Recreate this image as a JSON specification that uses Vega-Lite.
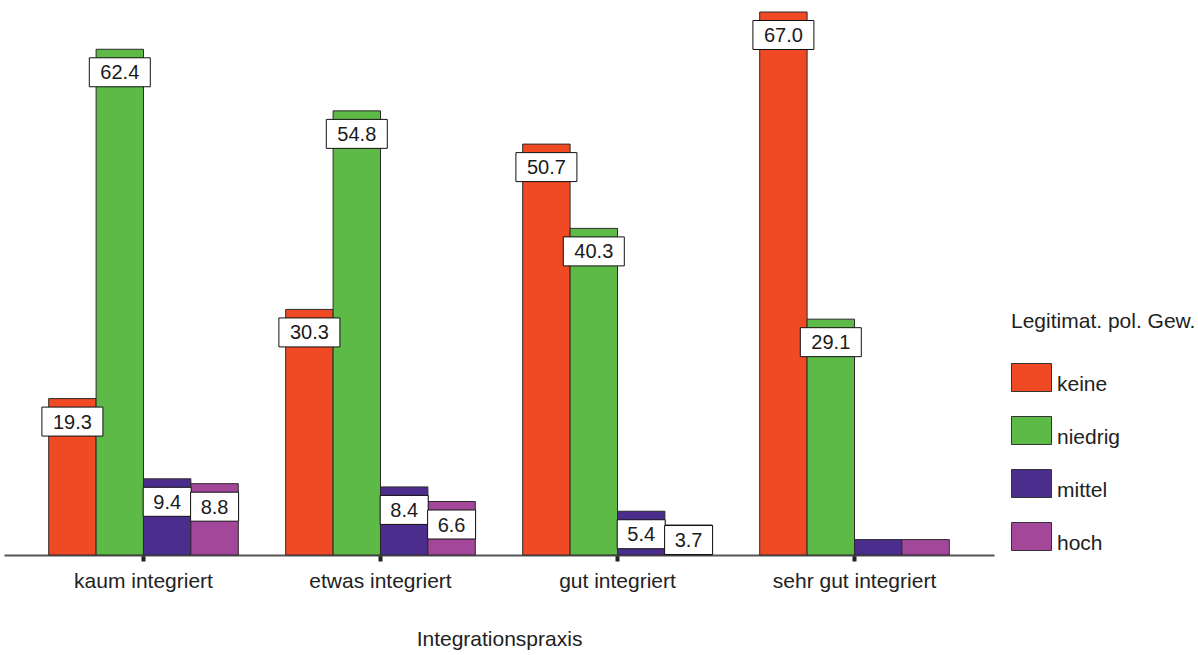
{
  "$schema": "https://vega.github.io/schema/vega-lite/v6.json",
  "width": 990,
  "height": 543,
  "autosize": "none",
  "padding": {"left": 4, "top": 12, "right": 204, "bottom": 100},
  "background": "white",
  "config": {"view": {"stroke": null}, "font": "Liberation Sans"},
  "data": {
    "values": [
      {"praxis": "kaum integriert", "gew": "keine", "value": 19.3},
      {"praxis": "kaum integriert", "gew": "niedrig", "value": 62.4},
      {"praxis": "kaum integriert", "gew": "mittel", "value": 9.4},
      {"praxis": "kaum integriert", "gew": "hoch", "value": 8.8},
      {"praxis": "etwas integriert", "gew": "keine", "value": 30.3},
      {"praxis": "etwas integriert", "gew": "niedrig", "value": 54.8},
      {"praxis": "etwas integriert", "gew": "mittel", "value": 8.4},
      {"praxis": "etwas integriert", "gew": "hoch", "value": 6.6},
      {"praxis": "gut integriert", "gew": "keine", "value": 50.7},
      {"praxis": "gut integriert", "gew": "niedrig", "value": 40.3},
      {"praxis": "gut integriert", "gew": "mittel", "value": 5.4},
      {"praxis": "gut integriert", "gew": "hoch", "value": 3.7},
      {"praxis": "sehr gut integriert", "gew": "keine", "value": 67.0},
      {"praxis": "sehr gut integriert", "gew": "niedrig", "value": 29.1},
      {"praxis": "sehr gut integriert", "gew": "mittel", "value": 1.9},
      {"praxis": "sehr gut integriert", "gew": "hoch", "value": 1.9}
    ]
  },
  "encoding": {
    "x": {
      "field": "praxis",
      "type": "nominal",
      "sort": ["kaum integriert", "etwas integriert", "gut integriert", "sehr gut integriert"],
      "scale": {"paddingInner": 0.2, "paddingOuter": 0.1886},
      "axis": {
        "title": "Integrationspraxis",
        "labelAngle": 0,
        "labelFontSize": 21,
        "labelColor": "#222222",
        "labelBaseline": "alphabetic",
        "labelPadding": 26,
        "domainColor": "#555555",
        "domainWidth": 2,
        "tickColor": "#222222",
        "tickWidth": 4,
        "tickSize": 6,
        "titleFontSize": 21,
        "titleFontWeight": "normal",
        "titleColor": "#222222",
        "titleBaseline": "alphabetic",
        "titleY": 90
      }
    },
    "xOffset": {
      "field": "gew",
      "type": "nominal",
      "sort": ["keine", "niedrig", "mittel", "hoch"],
      "scale": {"paddingInner": 0, "paddingOuter": 0}
    },
    "y": {
      "field": "value",
      "type": "quantitative",
      "scale": {"domain": [0, 67], "nice": false, "zero": true},
      "axis": null
    }
  },
  "layer": [
    {
      "mark": {"type": "bar", "stroke": "#2e2a2a", "strokeWidth": 1, "opacity": 1},
      "encoding": {
        "color": {
          "field": "gew",
          "type": "nominal",
          "scale": {
            "domain": ["keine", "niedrig", "mittel", "hoch"],
            "range": ["#EF4A23", "#5DBA47", "#4B2D8E", "#A3479A"]
          },
          "legend": {
            "orient": "none",
            "legendX": 1007,
            "legendY": 299,
            "title": "Legitimat. pol. Gew.",
            "symbolType": "M-1,-0.7L1,-0.7L1,0.7L-1,0.7Z",
            "symbolSize": 1600,
            "symbolStrokeColor": "#333333",
            "symbolStrokeWidth": 1,
            "symbolOpacity": 1,
            "titleFontSize": 21,
            "titleFontWeight": "normal",
            "titleColor": "#222222",
            "titlePadding": 25,
            "titleLimit": 300,
            "labelFontSize": 21,
            "labelColor": "#222222",
            "labelOffset": 5,
            "labelLimit": 200,
            "labelBaseline": "alphabetic",
            "rowPadding": 15,
            "padding": 0,
            "encode": {"labels": {"update": {"dy": {"value": 13}}}}
          }
        }
      }
    },
    {
      "transform": [{"filter": "datum.value > 2.5"}],
      "mark": {
        "type": "point",
        "filled": true,
        "fill": "white",
        "stroke": "#111111",
        "strokeWidth": 1,
        "opacity": 1,
        "yOffset": {"expr": "datum.value < 5 ? 15 : 23"}
      },
      "encoding": {
        "shape": {
          "condition": {"test": "datum.value >= 10", "value": "M-1,-0.475L1,-0.475L1,0.475L-1,0.475Z"},
          "value": "M-1,-0.604L1,-0.604L1,0.604L-1,0.604Z"
        },
        "size": {
          "condition": {"test": "datum.value >= 10", "value": 3721},
          "value": 2304
        }
      }
    },
    {
      "transform": [{"filter": "datum.value > 2.5"}],
      "mark": {
        "type": "text",
        "fontSize": 20,
        "color": "#1a1a1a",
        "baseline": "middle",
        "dy": 1,
        "yOffset": {"expr": "datum.value < 5 ? 15 : 23"}
      },
      "encoding": {
        "text": {"field": "value", "type": "quantitative", "format": ".1f"}
      }
    }
  ]
}
